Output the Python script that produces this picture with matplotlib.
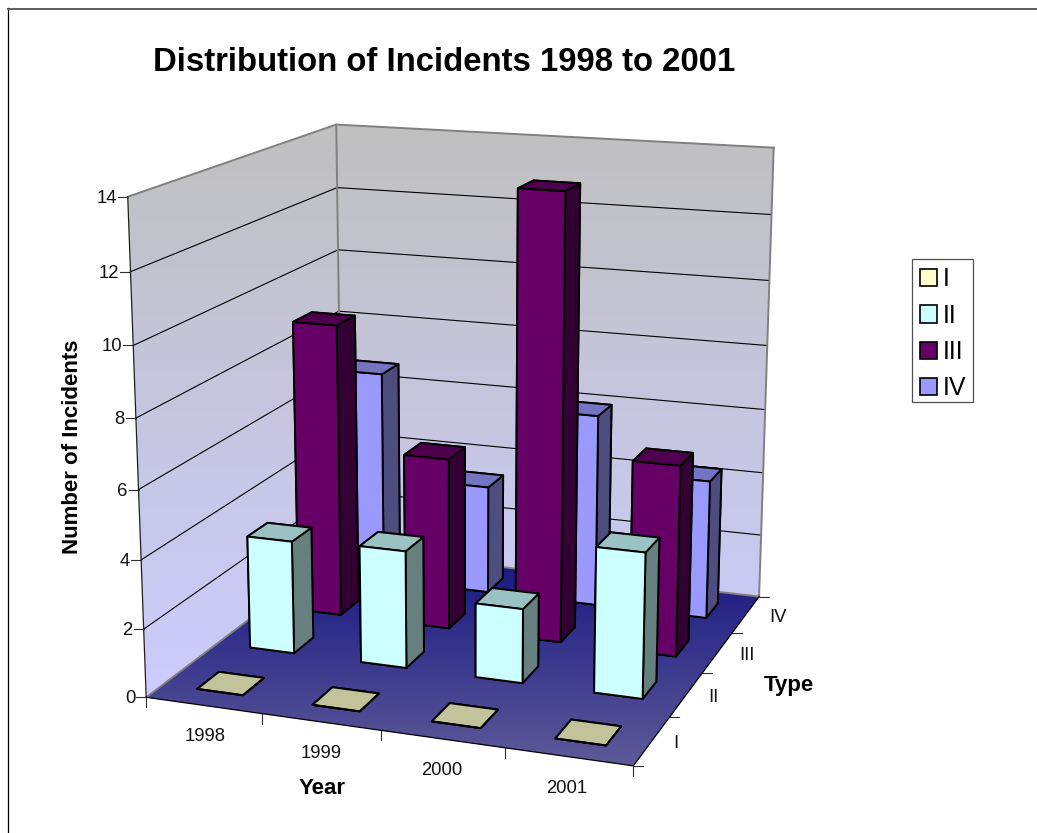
import numpy as np
import matplotlib
matplotlib.use('Agg')
import matplotlib.pyplot as plt
from matplotlib.patches import Patch, Polygon, Rectangle
from mpl_toolkits.mplot3d import proj3d

plt.rcParams['font.family'] = ['Liberation Sans', 'DejaVu Sans']

# Incident counts per year, one list for each type
years = ['1998', '1999', '2000', '2001']
types = ['I', 'II', 'III', 'IV']
type_i = [0, 0, 0, 0]
type_ii = [3.4, 3.5, 2.2, 4.25]
type_iii = [9, 5.25, 13.4, 5.75]
type_iv = [6.7, 3.4, 6, 4.3]
z_ticks = [0, 2, 4, 6, 8, 10, 12, 14]

series = [type_i, type_ii, type_iii, type_iv]
colors = ['#FFFFCC', '#CCFFFF', '#660066', '#9999FF']

W, H = 1037, 833
fig = plt.figure(figsize=(W / 100, H / 100), dpi=100)

# flat layer under the 3d axes: wall and floor fills, ticks and labels
bg = fig.add_axes([0, 0, 1, 1], zorder=0)
bg.set_axis_off()

ax = fig.add_axes([47.35 / W, -3.35 / H, 823.3 / W, 823.3 / H], projection='3d', zorder=1)
ax.patch.set_alpha(0)
ax.set_axis_off()
ax.computed_zorder = False
ax.view_init(14.98, -70.14)
ax.set_proj_type('persp', focal_length=0.5456)
ax.set_box_aspect((1, 1, 1))
x_max, y_max, z_max = len(years), len(types), z_ticks[-1]
ax.set_xlim(0, x_max, view_margin=0)
ax.set_ylim(0, y_max, view_margin=0)
ax.set_zlim(0, z_max, view_margin=0)
ax.autoscale(False)
ax.apply_aspect()


def to_px(x, y, z):
    # 3d data position -> pixel position on the flat layer
    sx, sy, _ = proj3d.proj_transform(np.array([x], float), np.array([y], float),
                                      np.array([z], float), ax.get_proj())
    px, py = ax.transData.transform((sx[0], sy[0]))
    return px, H - py


def shade(color, k):
    return tuple(c * k for c in matplotlib.colors.to_rgb(color))


def gradient_fill(top_color, bottom_color, y_top, y_bottom, outline):
    ramp = np.linspace(0, 1, 256)[:, None, None]
    top = np.array(matplotlib.colors.to_rgb(top_color))
    bottom = np.array(matplotlib.colors.to_rgb(bottom_color))
    img = bg.imshow(top + (bottom - top) * ramp, extent=[0, W, y_bottom, y_top],
                    aspect='auto', interpolation='bilinear')
    clip = Polygon(outline, closed=True, transform=bg.transData)
    img.set_clip_path(clip)


# walls and floor
a, b, c, d = [to_px(*p) for p in [(0, 0, 0), (x_max, 0, 0), (x_max, y_max, 0), (0, y_max, 0)]]
e, f, g = [to_px(*p) for p in [(0, 0, z_max), (0, y_max, z_max), (x_max, y_max, z_max)]]
gradient_fill('#C0C0C0', '#CCCCFF', f[1], a[1], [a, d, c, g, f, e])
gradient_fill('#141480', '#5E5A99', d[1], b[1], [a, b, c, d])
bg.set_xlim(0, W)
bg.set_ylim(H, 0)

# gridlines on the two walls
for z in z_ticks[1:-1]:
    ax.plot([0, 0, x_max], [0, y_max, y_max], [z, z, z], color='black', lw=0.8, zorder=1)

# box edges
edge_gray = '#808080'
ax.plot([0, 0, x_max], [0, y_max, y_max], [z_max, z_max, z_max], color=edge_gray, lw=1.4, zorder=1)
ax.plot([0, 0], [y_max, y_max], [0, z_max], color=edge_gray, lw=1.4, zorder=1)
ax.plot([x_max, x_max], [y_max, y_max], [0, z_max], color=edge_gray, lw=1.4, zorder=1)
ax.plot([0, 0, x_max], [0, y_max, y_max], [0, 0, 0], color=edge_gray, lw=1.4, zorder=1)
ax.plot([0, 0], [0, 0], [0, z_max], color='#202020', lw=0.9, zorder=1)
ax.plot([0, x_max, x_max], [0, 0, y_max], [0, 0, 0], color='black', lw=0.9, zorder=1)

# bars, back row first, left to right
bar_w = 0.4
order = 2
for j in range(len(types) - 1, -1, -1):
    for i in range(len(years)):
        col = colors[j]
        top = shade(col, 0.76)
        side = shade(col, 0.5)
        face = [top, top, col, col, side, side]
        ax.bar3d(i + 0.3, j + 0.3, 0, bar_w, bar_w, series[j][i], color=face, shade=False,
                 edgecolor='black', linewidth=1.4, zorder=order)
        order += 1

# z axis ticks and labels
tick_color = '#303030'
for z in z_ticks:
    px, py = to_px(0, 0, z)
    bg.plot([px - 10, px], [py, py], color=tick_color, lw=0.8)
    bg.text(px - 11, py + 1.5, str(z), ha='right', va='center', fontsize=13.3, color='#111111')

# year axis
for i in range(len(years) + 1):
    px, py = to_px(i, 0, 0)
    bg.plot([px, px], [py, py + 10], color=tick_color, lw=0.8)
for i, year in enumerate(years):
    px, py = to_px(i + 0.5, 0, 0)
    bg.text(px + 2 - 1.3 * i, py + 31.5, year, ha='center', va='center', fontsize=13.3,
            color='#111111')

# type axis
for j in range(len(types) + 1):
    px, py = to_px(x_max, j, 0)
    bg.plot([px, px + 10], [py, py], color=tick_color, lw=0.8)
for j, name in enumerate(types):
    px, py = to_px(x_max, j + 0.5, 0)
    bg.text(px + 24.5 + 2.5 * j, py + 2.5, name, ha='center', va='center', fontsize=13.3,
            color='#111111')

# titles
bg.text(444, 62.5, 'Distribution of Incidents 1998 to 2001', ha='center', va='center',
        fontsize=23.65, fontweight='bold')
bg.text(322, 789, 'Year', ha='center', va='center', fontsize=16, fontweight='bold')
bg.text(788.5, 686, 'Type', ha='center', va='center', fontsize=16, fontweight='bold')
bg.text(73, 447, 'Number of Incidents', ha='center', va='center', rotation=90,
        fontsize=16, fontweight='bold')

# outer frame, only the left and top sides
bg.plot([8, 8], [8, H], color='black', lw=0.9)
bg.plot([8, W], [8.5, 8.5], color='#505050', lw=1.3)

# legend with its own box
bg.add_patch(Rectangle((912, 259), 61, 143, facecolor='white', edgecolor='#505050', lw=0.9))
handles = [Patch(facecolor=col, edgecolor='black', linewidth=1.2) for col in colors]
bg.legend(handles, types, loc='upper left', bbox_to_anchor=(912 / W, 1 - 260 / H),
          bbox_transform=fig.transFigure, borderaxespad=0, fontsize=18, frameon=False,
          handlelength=0.68, handleheight=0.68, handletextpad=0.25, labelspacing=0.49,
          borderpad=0.3)

fig.savefig('out.png', dpi=100)
